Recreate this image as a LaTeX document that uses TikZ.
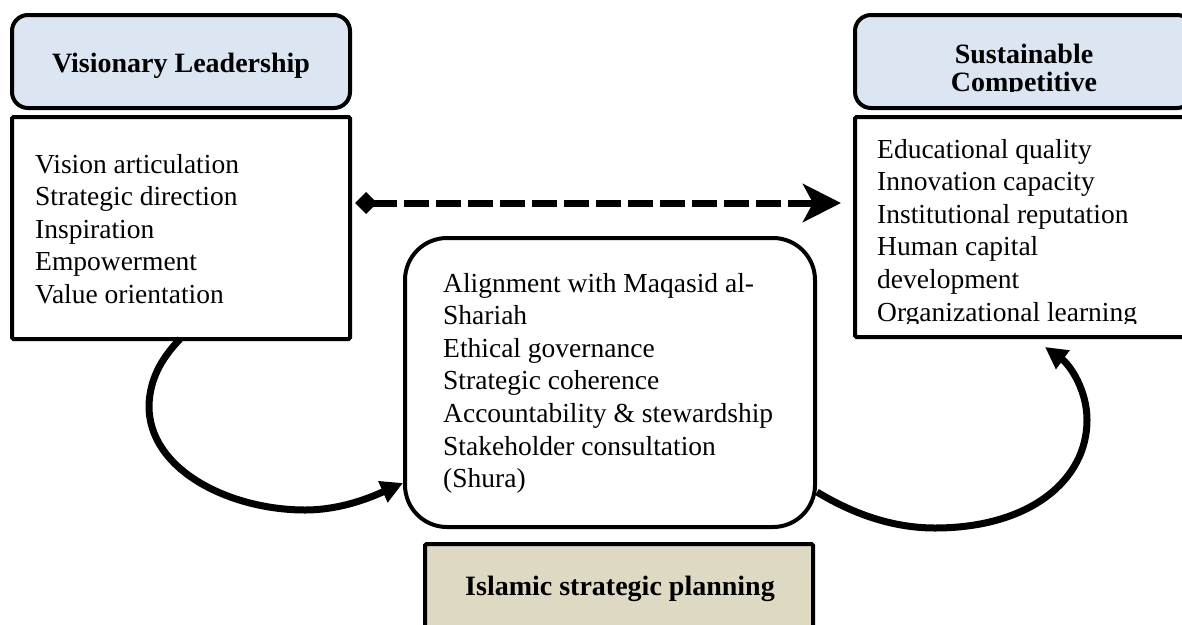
\documentclass[tikz,border=0pt]{standalone}
\usepackage{fontspec}
\setmainfont{Liberation Serif}
\usetikzlibrary{arrows.meta,calc}
\definecolor{hdrblue}{HTML}{DCE6F2}
\definecolor{hdrtan}{HTML}{DDD9C3}
\newcommand\blist[1]{\vtop{\fontsize{27.5}{32.6}\selectfont\halign{##\hfil\cr#1\crcr}}}
\tikzset{
  boxbase/.style={draw=black,line width=4pt,inner sep=0pt},
  hdrbox/.style={boxbase,fill=hdrblue,rounded corners=16pt},
  listbox/.style={boxbase,fill=white,rounded corners=1.5pt},
  midbox/.style={boxbase,fill=white,rounded corners=42pt},
  tanbox/.style={boxbase,fill=hdrtan,rounded corners=1.5pt},
  hdrtext/.style={inner sep=0pt,font=\fontsize{28}{29}\selectfont\bfseries,align=center},
  listtext/.style={inner sep=0pt,anchor=base west},
  flowcurve/.style={line width=7pt,-{Triangle[length=22pt,width=22pt]}},
  dashlink/.style={line width=7pt,dash pattern=on 25pt off 7pt,
    {Diamond[length=22pt,width=22pt]}-{Stealth[length=38pt,width=38pt,inset=10pt]}}
}
\begin{document}
\begin{tikzpicture}[x=1pt,y=-1pt]
\useasboundingbox (0,0) rectangle (1182,624);
\clip (0,0) rectangle (1182,624);
% boxes
\node[hdrbox,minimum width=338pt,minimum height=93pt] (lhdr) at (181,61.5) {};
\node[listbox,minimum width=338pt,minimum height=222pt] (lbox) at (181,228) {};
\node[hdrbox,minimum width=338pt,minimum height=93pt] (rhdr) at (1024,61.5) {};
\node[listbox,minimum width=338pt,minimum height=220pt] (rbox) at (1024,227) {};
\node[midbox,minimum width=410pt,minimum height=289pt] (cbox) at (610,382.5) {};
\node[tanbox,minimum width=388pt,minimum height=110pt] (tbox) at (619,599) {};
% header texts
\node[hdrtext,anchor=base] (lhdrt) at (181,72) {Visionary Leadership};
\begin{scope}
\clip (855,15) rectangle (1193,91.5);
\node[hdrtext,anchor=base] (rhdrt1) at (1024,63) {Sustainable};
\node[hdrtext,anchor=base] (rhdrt2) at (1024,91) {Competitive};
\end{scope}
\node[hdrtext,anchor=base] (tboxt) at (620,595) {Islamic strategic planning};
% list texts
\node[listtext] (lboxt) at (35,173) {\blist{Vision articulation\cr Strategic direction\cr Inspiration\cr Empowerment\cr Value orientation}};
\node[listtext] (cboxt) at (443,292) {\blist{Alignment with Maqasid al-\cr Shariah\cr Ethical governance\cr Strategic coherence\cr Accountability \& stewardship\cr Stakeholder consultation\cr (Shura)}};
\begin{scope}
\clip (855,117) rectangle (1193,323.5);
\node[listtext] (rboxt) at (877,158) {\blist{Educational quality\cr Innovation capacity\cr Institutional reputation\cr Human capital\cr development\cr Organizational learning}};
\end{scope}
% connectors
\coordinate (dy) at (0,203);
\coordinate (ds) at ([xshift=3pt]lbox.east |- dy);
\coordinate (de) at ([xshift=-12pt]rbox.west |- dy);
\draw[dashlink] (ds) -- (de);
\coordinate (lcs) at (180,339);
\coordinate (lce) at (403,483);
\draw[flowcurve] (lcs) .. controls (160,360) and (150,380) .. (149,405)
  .. controls (148,470) and (230,510) .. (305,510)
  .. controls (345,510) and (378,494) .. (lce);
\coordinate (rcs) at (817,492);
\coordinate (rce) at (1045,347);
\draw[flowcurve] (rcs) .. controls (850,512) and (890,528) .. (935,528)
  .. controls (1030,528) and (1087,480) .. (1087,420)
  .. controls (1087,390) and (1070,365) .. (rce);
\end{tikzpicture}
\end{document}
